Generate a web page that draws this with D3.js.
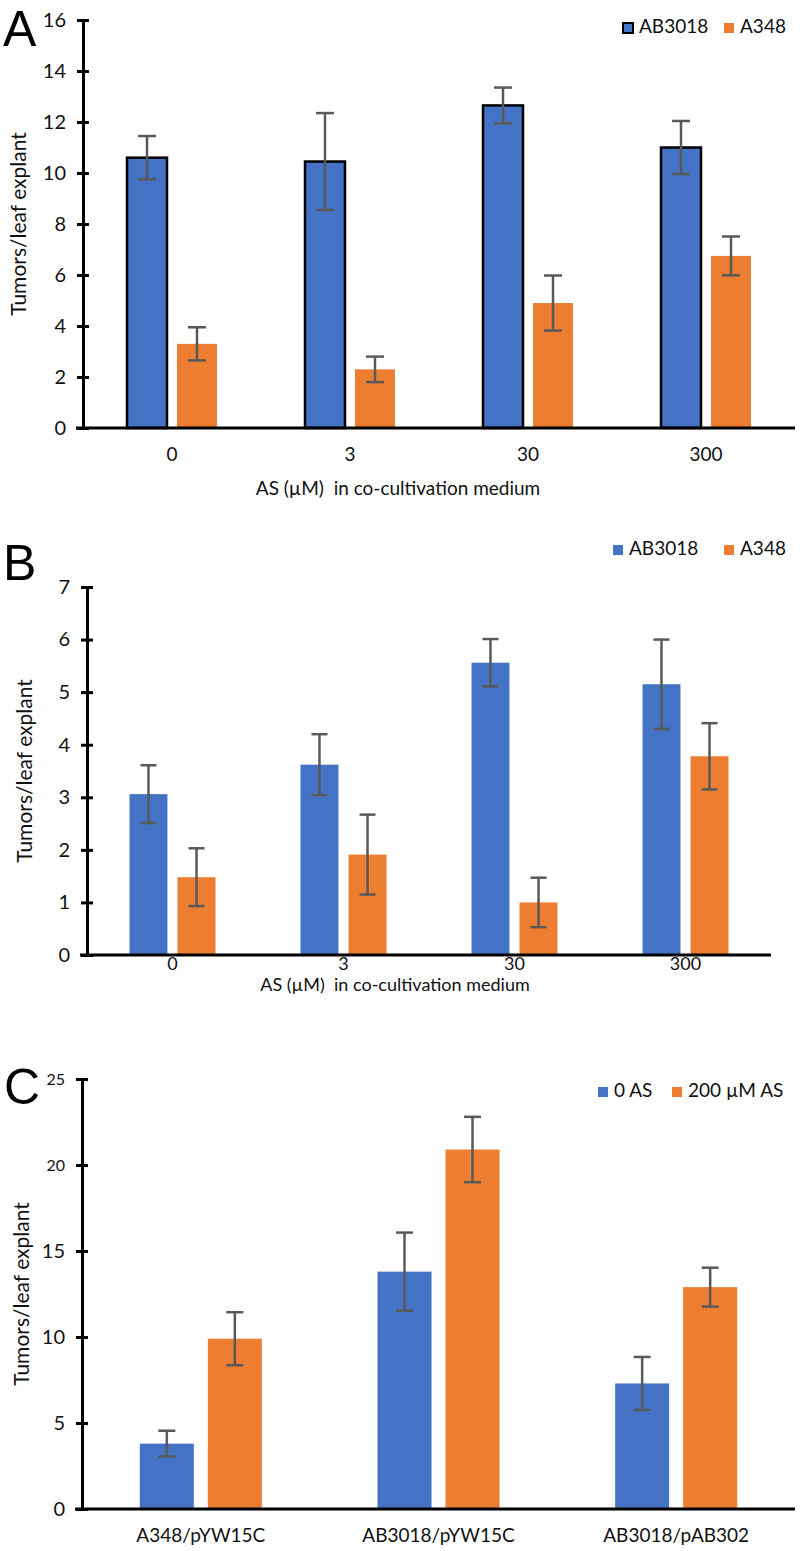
<!DOCTYPE html>
<html>
<head>
<meta charset="utf-8">
<script src="https://cdn.jsdelivr.net/npm/d3@7"></script>
<style>
  html, body { margin: 0; padding: 0; background: #fff; }
  svg { display: block; font-family: Lato, "Open Sans", sans-serif; }
</style>
</head>
<body>
<svg id="chart" width="800" height="1551"></svg>
<script>
// ---------- DATA ----------
// Panel A
const panelACategories = ["0", "3", "30", "300"];
const panelASeries = ["AB3018", "A348"];
const panelAValuesAB3018 = [10.6, 10.45, 12.65, 11.0];
const panelAErrorsAB3018 = [0.85, 1.9, 0.7, 1.04];
const panelAValuesA348 = [3.3, 2.3, 4.9, 6.75];
const panelAErrorsA348 = [0.65, 0.5, 1.08, 0.76];
const panelATicks = [0, 2, 4, 6, 8, 10, 12, 14, 16];

// Panel B
const panelBCategories = ["0", "3", "30", "300"];
const panelBSeries = ["AB3018", "A348"];
const panelBValuesAB3018 = [3.06, 3.62, 5.56, 5.15];
const panelBErrorsAB3018 = [0.55, 0.58, 0.45, 0.85];
const panelBValuesA348 = [1.48, 1.91, 1.0, 3.78];
const panelBErrorsA348 = [0.55, 0.76, 0.47, 0.63];
const panelBTicks = [0, 1, 2, 3, 4, 5, 6, 7];

// Panel C
const panelCCategories = ["A348/pYW15C", "AB3018/pYW15C", "AB3018/pAB302"];
const panelCSeries = ["0 AS", "200 µM AS"];
const panelCValues0AS = [3.8, 13.8, 7.3];
const panelCErrors0AS = [0.75, 2.27, 1.54];
const panelCValues200AS = [9.9, 20.9, 12.9];
const panelCErrors200AS = [1.54, 1.9, 1.13];
const panelCTicks = [0, 5, 10, 15, 20, 25];

const yTitle = "Tumors/leaf explant";
const xTitleAB = "AS (µM)\u00a0 in co-cultivation medium";

// ---------- STYLE ----------
const BLUE = "#4472C4", ORANGE = "#ED7D31", ERR = "#595959";
const svg = d3.select("#chart");

function drawPanel(cfg) {
  const g = svg.append("g");
  const y = d3.scaleLinear().domain([0, cfg.ticks[cfg.ticks.length - 1]]).range([cfg.bottom, cfg.top]);
  const x0 = d3.scaleBand().domain(cfg.categories).range([cfg.left, cfg.right]).padding(0);
  const x1 = d3.scaleBand().domain(cfg.series).range([0, x0.bandwidth()])
    .paddingInner(cfg.padInner).paddingOuter(cfg.padOuter);
  const colors = d3.scaleOrdinal().domain(cfg.series).range([BLUE, ORANGE]);

  const rows = [];
  cfg.categories.forEach((c, i) => {
    cfg.series.forEach((s, j) => {
      rows.push({cat: c, ser: s, v: cfg.values[j][i], e: cfg.errors[j][i], j});
    });
  });

  // bars
  g.selectAll("rect.bar").data(rows).enter().append("rect")
    .attr("class", "bar")
    .attr("x", d => x0(d.cat) + x1(d.ser))
    .attr("width", x1.bandwidth())
    .attr("y", d => y(d.v))
    .attr("height", d => y(0) - y(d.v))
    .attr("fill", d => colors(d.ser))
    .attr("stroke", d => (cfg.outlineFirst && d.j === 0) ? "#000" : "none")
    .attr("stroke-width", 2.5);

  // error bars
  const eg = g.selectAll("g.err").data(rows).enter().append("g").attr("class", "err")
    .attr("stroke", ERR).attr("stroke-width", 2.5).attr("fill", "none");
  const cx = d => x0(d.cat) + x1(d.ser) + x1.bandwidth() / 2;
  eg.append("line").attr("x1", cx).attr("x2", cx)
    .attr("y1", d => y(d.v + d.e)).attr("y2", d => y(d.v - d.e));
  eg.append("line").attr("x1", d => cx(d) - cfg.cap / 2).attr("x2", d => cx(d) + cfg.cap / 2)
    .attr("y1", d => y(d.v + d.e)).attr("y2", d => y(d.v + d.e));
  eg.append("line").attr("x1", d => cx(d) - cfg.cap / 2).attr("x2", d => cx(d) + cfg.cap / 2)
    .attr("y1", d => y(d.v - d.e)).attr("y2", d => y(d.v - d.e));

  // y axis
  const ya = g.append("g").attr("transform", `translate(${cfg.left},0)`)
    .call(d3.axisLeft(y).tickValues(cfg.ticks).tickFormat(d3.format("d"))
      .tickSize(6).tickSizeOuter(0).tickPadding(11));
  ya.select(".domain").attr("stroke", "#000").attr("stroke-width", 3);
  ya.selectAll(".tick line").attr("x1", 6).attr("x2", -6).attr("stroke", "#000").attr("stroke-width", 3);
  ya.selectAll(".tick text").attr("fill", "#111").attr("font-size", d => (cfg.smallTop && d >= 20) ? 16 : 20)
    .attr("font-family", "Lato, sans-serif");

  // x axis line
  g.append("line").attr("x1", cfg.left - 7).attr("x2", cfg.right)
    .attr("y1", y(0)).attr("y2", y(0)).attr("stroke", "#000").attr("stroke-width", 3);

  // category labels
  const xa = g.append("g").attr("transform", `translate(0,${y(0)})`)
    .call(d3.axisBottom(x0).tickSize(0).tickPadding(cfg.catPad));
  xa.select(".domain").remove();
  xa.selectAll(".tick text").attr("fill", "#111").attr("font-size", cfg.catFont || 19)
    .attr("font-family", "Lato, sans-serif");

  // x title
  if (cfg.xTitle) {
    g.append("text").attr("x", cfg.xTitleX).attr("y", cfg.xTitleY)
      .attr("text-anchor", "middle").attr("dominant-baseline", "middle")
      .attr("font-size", cfg.xTitleFont || 19).attr("fill", "#111").text(cfg.xTitle);
  }
  // y title
  g.append("text")
    .attr("transform", `translate(${cfg.yTitleX},${(cfg.top + cfg.bottom) / 2}) rotate(-90)`)
    .attr("text-anchor", "middle").attr("dominant-baseline", "middle")
    .attr("font-size", 21).attr("fill", "#111").text(yTitle);

  // panel letter
  g.append("text").attr("x", cfg.letterX).attr("y", cfg.letterY)
    .attr("font-family", "'Liberation Sans', Arial, sans-serif")
    .attr("font-size", 50).attr("fill", "#000").text(cfg.letter);

  // legend
  cfg.series.forEach((s, j) => {
    const lx = cfg.legendX[j];
    g.append("rect").attr("x", lx).attr("y", cfg.legendY - 5).attr("width", 10).attr("height", 10)
      .attr("fill", colors(s))
      .attr("stroke", (cfg.outlineFirst && j === 0) ? "#000" : "none").attr("stroke-width", 2);
    g.append("text").attr("x", lx + 16).attr("y", cfg.legendY)
      .attr("dominant-baseline", "middle").attr("font-size", 19).attr("fill", "#111").text(s);
  });
}

drawPanel({
  letter: "A", letterX: 3, letterY: 46,
  categories: panelACategories, series: panelASeries,
  values: [panelAValuesAB3018, panelAValuesA348],
  errors: [panelAErrorsAB3018, panelAErrorsA348],
  ticks: panelATicks,
  left: 83, right: 795, top: 20, bottom: 428,
  padInner: 0.2, padOuter: 0.88, cap: 18, outlineFirst: true,
  catPad: 20, xTitle: xTitleAB, xTitleX: 398, xTitleY: 490,
  yTitleX: 21, legendX: [623, 724], legendY: 28
});

drawPanel({
  letter: "B", letterX: 3, letterY: 580,
  categories: panelBCategories, series: panelBSeries,
  values: [panelBValuesAB3018, panelBValuesA348],
  errors: [panelBErrorsAB3018, panelBErrorsA348],
  ticks: panelBTicks,
  left: 87, right: 771, top: 587, bottom: 955,
  padInner: 0.21, padOuter: 0.885, cap: 16, outlineFirst: false,
  catPad: 2, catFont: 18, xTitle: xTitleAB, xTitleFont: 18, xTitleX: 395, xTitleY: 986,
  yTitleX: 27, legendX: [613, 724], legendY: 550
});

drawPanel({
  letter: "C", letterX: 4, letterY: 1104,
  categories: panelCCategories, series: panelCSeries,
  values: [panelCValues0AS, panelCValues200AS],
  errors: [panelCErrors0AS, panelCErrors200AS],
  ticks: panelCTicks, smallTop: true,
  left: 82, right: 795, top: 1079, bottom: 1509,
  padInner: 0.206, padOuter: 0.85, cap: 17, outlineFirst: false,
  catPad: 20, xTitle: null,
  yTitleX: 24, legendX: [598, 672], legendY: 1092
});
</script>
</body>
</html>
